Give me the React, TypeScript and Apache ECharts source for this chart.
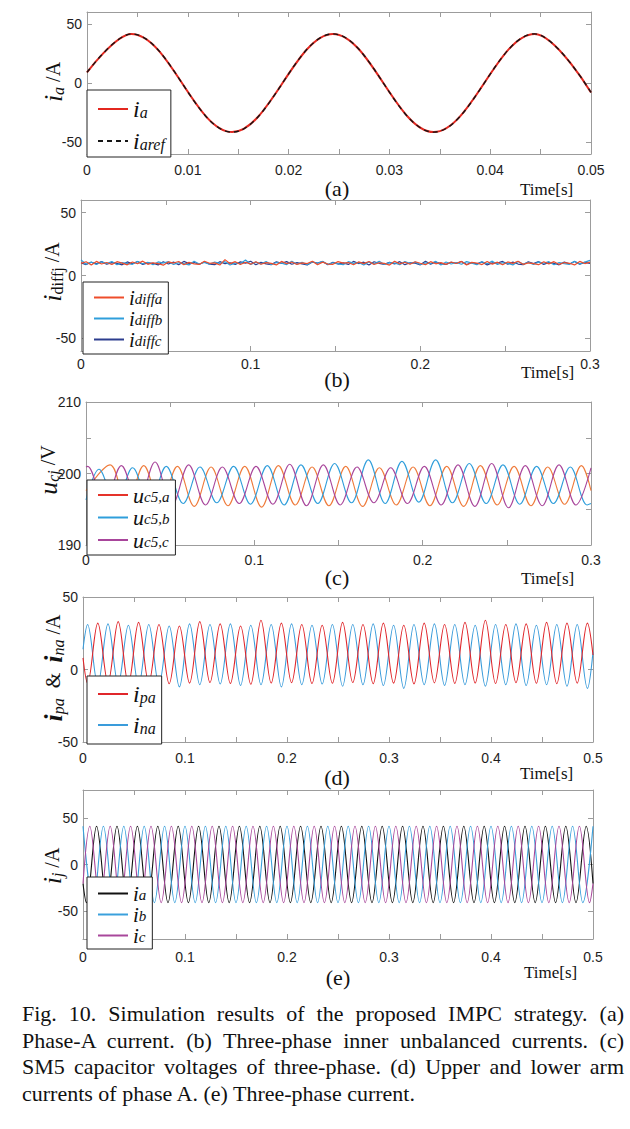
import React, { useEffect, useRef } from 'react';
import * as echarts from 'echarts';

// ---------- tick / label values ----------
const aXTicks = [0, 0.005, 0.01, 0.015, 0.02, 0.025, 0.03, 0.035, 0.04, 0.045, 0.05];
const aXLabels = [0, 0.01, 0.02, 0.03, 0.04, 0.05];
const bcXTicks = [0, 0.05, 0.1, 0.15, 0.2, 0.25, 0.3];
const bcXLabels = [0, 0.1, 0.2, 0.3];
const deXTicks = [0, 0.05, 0.1, 0.15, 0.2, 0.25, 0.3, 0.35, 0.4, 0.45, 0.5];
const deXLabels = [0, 0.1, 0.2, 0.3, 0.4, 0.5];
const currentYTicks = [-50, 0, 50];
const voltYTicks = [190, 195, 200, 205, 210];
const voltYLabels = [190, 200, 210];

// ---------- (a) phase-A current: start, extrema, end ----------
const aTime = [0, 0.0044, 0.0144, 0.0244, 0.0344, 0.0444, 0.05];
const aIa = [9, 41.5, -41.5, 41.5, -41.5, 41.5, -8];
const aIaRef = [9, 41.5, -41.5, 41.5, -41.5, 41.5, -8];

// ---------- (b) inner unbalanced currents (samples over 0..0.3 s) ----------
const bDiffA = [9.6, 10.9, 8.4, 11.2, 9.1, 10.3, 8.7, 11.0, 9.8, 8.5,
  10.7, 9.3, 11.4, 8.9, 10.1, 9.5, 8.2, 10.8, 9.9, 11.1,
  8.6, 10.4, 9.2, 8.8, 11.3, 9.7, 10.0, 8.3, 12.6, 9.4,
  11.0, 8.7, 10.5, 9.0, 10.9, 8.9, 10.2, 9.6, 8.4, 11.2,
  9.3, 10.7, 8.8, 10.0, 9.5, 11.3, 8.6, 10.6, 9.1, 8.9,
  11.0, 9.8, 10.3, 8.5, 10.8, 9.4, 11.1, 8.7, 10.1, 9.6,
  8.3, 11.4, 9.2, 10.5, 8.9, 10.9, 9.7, 8.6, 11.0, 9.3,
  10.2, 8.8, 10.7, 9.5, 11.2, 8.4, 10.4, 9.9, 8.7, 11.1,
  9.0, 10.6, 8.5, 10.8, 9.6, 11.3, 8.9, 10.0, 9.4, 8.6,
  10.9, 9.2, 11.0, 8.8, 10.3, 9.7, 8.4, 11.2, 9.5, 10.6];
const bDiffB = [12.4, 9.0, 10.6, 8.8, 10.9, 9.4, 11.1, 8.5, 10.2, 9.7,
  8.9, 11.2, 9.3, 10.5, 8.6, 10.8, 9.9, 11.0, 8.7, 10.1,
  9.5, 8.4, 11.3, 9.1, 10.4, 8.9, 10.7, 9.6, 11.0, 8.3,
  10.0, 9.4, 12.3, 8.8, 10.6, 9.2, 11.1, 8.6, 10.3, 9.8,
  8.7, 11.4, 9.0, 10.5, 8.5, 10.9, 9.7, 11.2, 8.9, 10.1,
  9.3, 8.6, 11.0, 9.6, 10.4, 8.4, 10.8, 9.2, 11.3, 8.8,
  10.2, 9.9, 8.5, 11.1, 9.4, 10.6, 8.7, 10.0, 9.5, 11.2,
  8.3, 10.7, 9.1, 10.3, 8.9, 11.0, 9.8, 8.6, 10.9, 9.3,
  11.4, 8.8, 10.1, 9.6, 8.4, 11.2, 9.0, 10.5, 8.7, 10.8,
  9.7, 11.0, 8.5, 10.2, 9.4, 8.9, 11.3, 9.2, 10.6, 12.0];
const bDiffC = [9.9, 8.7, 10.5, 9.2, 11.0, 8.9, 10.2, 9.6, 8.5, 10.8,
  9.3, 11.1, 8.8, 10.0, 9.7, 8.4, 10.9, 9.1, 10.6, 8.6,
  11.2, 9.5, 10.3, 8.9, 10.7, 9.0, 8.6, 11.0, 9.4, 10.1,
  8.8, 10.8, 9.8, 11.3, 8.5, 10.4, 9.2, 8.7, 10.9, 9.6,
  11.0, 8.9, 10.2, 9.3, 8.4, 10.7, 9.9, 11.1, 8.6, 10.5,
  9.1, 10.0, 8.8, 11.2, 9.5, 10.6, 8.3, 10.9, 9.7, 8.9,
  10.4, 9.2, 11.0, 8.6, 10.1, 9.8, 8.5, 11.3, 9.0, 10.7,
  9.4, 8.8, 10.5, 9.6, 11.1, 8.7, 10.2, 9.3, 10.8, 8.4,
  10.0, 9.9, 11.2, 8.9, 10.6, 9.1, 8.6, 10.9, 9.5, 11.0,
  8.8, 10.3, 9.7, 8.5, 10.7, 9.2, 11.1, 8.9, 10.4, 9.6];

// ---------- (c) SM5 capacitor voltages: alternating extrema (50 Hz) ----------
const cHalfPeriod = 0.01;
const cA = { start: 197.6, first: 0.0143, end: 197.6, ext: [201.2, 195.5, 201.1, 195.6, 201.0, 195.4, 200.9, 195.5, 201.0, 195.3, 201.1, 195.6, 200.9, 195.5, 201.0, 195.4, 200.8, 195.6, 200.9, 195.5, 201.0, 195.4, 201.1, 195.6, 201.0, 195.5, 200.9, 195.7, 201.1] };
const cB = { start: 196.3, first: 0.0077, end: 195.8, ext: [200.6, 195.7, 200.8, 195.6, 201.0, 195.8, 200.9, 195.9, 201.0, 195.7, 201.1, 195.6, 201.2, 195.8, 201.4, 195.9, 201.9, 195.8, 201.7, 196.0, 201.9, 195.9, 201.4, 195.8, 201.2, 195.7, 201.0, 195.8, 200.9, 195.6] };
const cC = { start: 200.9, first: 0.001, end: 200.8, ext: [201.0, 195.6, 201.1, 195.7, 201.6, 195.5, 201.2, 195.6, 200.9, 195.8, 201.0, 195.7, 201.3, 195.5, 201.2, 195.6, 200.9, 195.9, 200.8, 195.8, 201.0, 195.6, 201.2, 195.4, 201.4, 195.2, 201.1, 195.5, 201.2, 195.6] };

// ---------- (d) arm currents of phase A: alternating extrema (50 Hz) ----------
const dHalfPeriod = 0.01;
const dPa = { start: 8, first: 0.0045, end: 10, ext: [-9.5, 32, -9.0, 33, -10.0, 32.5, -9.2, 31, -9.8, 30, -9.4, 33, -9.0, 31.5, -9.6, 30, -10.2, 34, -9.3, 32, -9.1, 31, -9.7, 30.5, -9.5, 32.5, -9.0, 31, -9.8, 32, -9.4, 30.5, -9.9, 32, -9.2, 31, -9.6, 32.5, -9.3, 34, -9.7, 31, -9.1, 31.5, -9.5, 32.5, -9.8, 32, -9.4, 32] };
const dNa = { start: 14, first: 0.0045, end: 12, ext: [31, -10.5, 31.5, -10.0, 30.5, -11.0, 31, -10.5, 30, -12.0, 31.5, -10.5, 31, -10.0, 31.5, -11.0, 30.5, -10.5, 31, -12.0, 31.5, -10.5, 30.5, -10.0, 31, -11.5, 31, -10.5, 31.5, -11.0, 30.5, -13.0, 31, -10.5, 31.5, -11.0, 31, -10.5, 30.5, -11.5, 31, -10.5, 31.5, -11.0, 30.5, -10.5, 31, -11.5, 31, -13.0] };

// ---------- (e) three-phase currents: alternating extrema (50 Hz) ----------
const eHalfPeriod = 0.01;
const eIa = { start: -20.5, first: 0.00333, end: -20.5, ext: [-41, 41, -41, 41, -41, 41, -41, 41, -41, 41, -41, 41, -41, 41, -41, 41, -41, 41, -41, 41, -41, 41, -41, 41, -41, 41, -41, 41, -41, 41, -41, 41, -41, 41, -41, 41, -41, 41, -41, 41, -41, 41, -41, 41, -41, 41, -41, 41, -41, 41] };
const eIb = { start: null, first: 0, end: null, ext: [41, -41, 41, -41, 41, -41, 41, -41, 41, -41, 41, -41, 41, -41, 41, -41, 41, -41, 41, -41, 41, -41, 41, -41, 41, -41, 41, -41, 41, -41, 41, -41, 41, -41, 41, -41, 41, -41, 41, -41, 41, -41, 41, -41, 41, -41, 41, -41, 41, -41, 41] };
const eIc = { start: -20.5, first: 0.00667, end: -20.5, ext: [41, -41, 41, -41, 41, -41, 41, -41, 41, -41, 41, -41, 41, -41, 41, -41, 41, -41, 41, -41, 41, -41, 41, -41, 41, -41, 41, -41, 41, -41, 41, -41, 41, -41, 41, -41, 41, -41, 41, -41, 41, -41, 41, -41, 41, -41, 41, -41, 41, -41] };

const captionLines = [
  'Fig. 10. Simulation results of the proposed IMPC strategy. (a)',
  'Phase-A current. (b) Three-phase inner unbalanced currents. (c)',
  'SM5 capacitor voltages of three-phase. (d) Upper and lower arm',
  'currents of phase A. (e) Three-phase current.',
];

// ---------- helpers ----------
function pairs(t: number[], v: number[]) {
  return t.map((x, i) => [x, v[i]]);
}
function wave(w: any, half: number, tEnd: number) {
  const pts: number[][] = [];
  if (w.start !== null) pts.push([0, w.start]);
  w.ext.forEach((v: number, k: number) => pts.push([w.first + k * half, v]));
  if (w.end !== null) pts.push([tEnd, w.end]);
  return pts;
}
function samples(v: number[], tEnd: number) {
  return v.map((y, k) => [(k * tEnd) / (v.length - 1), y]);
}

const SERIF = 'Liberation Serif';
const SANS = 'Liberation Sans';
const AXIS_GRAY = '#9c9c9c';

const RED = '#e3271f';
const LBLUE = '#2f9edb';
const NAVY = '#2c3d8e';
const MAGENTA = '#a8459b';
const ORANGE = '#ef7b3b';

export default function App() {
  const ref = useRef<HTMLDivElement>(null);
  useEffect(() => {
    const chart = echarts.init(ref.current as HTMLDivElement, null, { renderer: 'svg' });

    const panels = [
      { left: 87, top: 12, width: 504, height: 142, xMax: 0.05, xTicks: aXTicks, xLabels: aXLabels, yMin: -60, yMax: 60, yTicks: currentYTicks, yLabels: currentYTicks, xMargin: 9 },
      { left: 81, top: 200, width: 509, height: 151, xMax: 0.3, xTicks: bcXTicks, xLabels: bcXLabels, yMin: -60, yMax: 60, yTicks: currentYTicks, yLabels: currentYTicks, xMargin: 6 },
      { left: 86, top: 402, width: 505, height: 143, xMax: 0.3, xTicks: bcXTicks, xLabels: bcXLabels, yMin: 190, yMax: 210, yTicks: voltYTicks, yLabels: voltYLabels, xMargin: 8 },
      { left: 83, top: 597, width: 510, height: 145, xMax: 0.5, xTicks: deXTicks, xLabels: deXLabels, yMin: -50, yMax: 50, yTicks: currentYTicks, yLabels: currentYTicks, xMargin: 9 },
      { left: 83, top: 790, width: 510, height: 149, xMax: 0.5, xTicks: deXTicks, xLabels: deXLabels, yMin: -80, yMax: 80, yTicks: currentYTicks, yLabels: currentYTicks, xMargin: 11 },
    ];

    const grid: any[] = [];
    const xAxis: any[] = [];
    const yAxis: any[] = [];
    const lineStyleAxis = { color: AXIS_GRAY, width: 1 };
    panels.forEach((p, i) => {
      grid.push({ left: p.left, top: p.top, width: p.width, height: p.height, containLabel: false });
      const common = { type: 'value', gridIndex: i, min: 0, max: p.xMax, splitLine: { show: false } };
      xAxis.push({
        ...common, position: 'bottom',
        axisLine: { show: true, onZero: false, lineStyle: lineStyleAxis },
        axisTick: { show: true, inside: true, length: 5, lineStyle: lineStyleAxis, customValues: p.xTicks },
        axisLabel: { show: true, customValues: p.xLabels, margin: p.xMargin, color: '#1e1e1e', fontSize: 14, fontFamily: SANS, showMaxLabel: true, showMinLabel: true, formatter: (v: number) => String(v) },
      });
      xAxis.push({
        ...common, position: 'top',
        axisLine: { show: true, onZero: false, lineStyle: lineStyleAxis },
        axisTick: { show: true, inside: true, length: 5, lineStyle: lineStyleAxis, customValues: p.xTicks },
        axisLabel: { show: false },
      });
      const ycommon = { type: 'value', gridIndex: i, min: p.yMin, max: p.yMax, splitLine: { show: false } };
      yAxis.push({
        ...ycommon, position: 'left',
        axisLine: { show: true, onZero: false, lineStyle: lineStyleAxis },
        axisTick: { show: true, inside: true, length: 5, lineStyle: lineStyleAxis, customValues: p.yTicks },
        axisLabel: { show: true, customValues: p.yLabels, margin: 5, color: '#1e1e1e', fontSize: 14, fontFamily: SANS, showMaxLabel: true, showMinLabel: true, formatter: (v: number) => String(v) },
      });
      yAxis.push({
        ...ycommon, position: 'right',
        axisLine: { show: true, onZero: false, lineStyle: lineStyleAxis },
        axisTick: { show: true, inside: true, length: 5, lineStyle: lineStyleAxis, customValues: p.yTicks },
        axisLabel: { show: false },
      });
    });

    const line = (name: string, i: number, data: any[], color: string, width: number, smooth: number | boolean, extra: any = {}) => ({
      type: 'line', name, xAxisIndex: 2 * i, yAxisIndex: 2 * i, data, symbol: 'none', showSymbol: false,
      smooth, silent: true, animation: false, color,
      itemStyle: { color }, lineStyle: { color, width, ...(extra.lineStyle || {}) },
    });

    const SM = 0.36;
    const series = [
      line('a_ia', 0, pairs(aTime, aIa), RED, 2, SM),
      line('a_iaref', 0, pairs(aTime, aIaRef), '#151515', 1.4, SM, { lineStyle: { type: [5, 4] } }),
      line('b_c', 1, samples(bDiffC, 0.3), NAVY, 1.2, false),
      line('b_b', 1, samples(bDiffB, 0.3), LBLUE, 1.2, false),
      line('b_a', 1, samples(bDiffA, 0.3), '#ee4d2b', 1.2, false),
      line('c_a', 2, wave(cA, cHalfPeriod, 0.3), ORANGE, 1.1, SM),
      line('c_b', 2, wave(cB, cHalfPeriod, 0.3), LBLUE, 1.1, SM),
      line('c_c', 2, wave(cC, cHalfPeriod, 0.3), MAGENTA, 1.1, SM),
      line('d_n', 3, wave(dNa, dHalfPeriod, 0.5), '#3a9cdb', 1.1, SM),
      line('d_p', 3, wave(dPa, dHalfPeriod, 0.5), '#e0262b', 1.1, SM),
      line('e_a', 4, wave(eIa, eHalfPeriod, 0.5), '#111111', 1.1, SM),
      line('e_b', 4, wave(eIb, eHalfPeriod, 0.5), '#3aa0dc', 1.1, SM),
      line('e_c', 4, wave(eIc, eHalfPeriod, 0.5), '#a8479b', 1.1, SM),
    ];

    const labelMap: Record<string, string> = {
      a_ia: '{i|i}{s|a}', a_iaref: '{i|i}{s|aref}',
      b_a: '{i|i}{s|diffa}', b_b: '{i|i}{s|diffb}', b_c: '{i|i}{s|diffc}',
      c_a: '{i|u}{s|c5,a}', c_b: '{i|u}{s|c5,b}', c_c: '{i|u}{s|c5,c}',
      d_p: '{i|i}{s|pa}', d_n: '{i|i}{s|na}',
      e_a: '{i|i}{s|a}', e_b: '{i|i}{s|b}', e_c: '{i|i}{s|c}',
    };
    const legRich = (L: number, big: number, sub: number) => ({
      i: { fontSize: big, fontStyle: 'italic', fontFamily: SERIF, color: '#111', lineHeight: L },
      s: { fontSize: sub, fontStyle: 'italic', fontFamily: SERIF, color: '#111', lineHeight: 4, verticalAlign: 'bottom' },
    });
    const legend = (left: number, top: number, data: any[], L: number, gap: number, padding: number[], big: number, sub: number) => ({
      orient: 'vertical', left, top, data, itemWidth: 30, itemHeight: 10, itemGap: gap,
      padding, borderColor: '#222', borderWidth: 1, backgroundColor: '#fff', selectedMode: false,
      itemStyle: { opacity: 0, borderWidth: 0 },
      lineStyle: { opacity: 1 },
      formatter: (n: string) => labelMap[n],
      textStyle: { rich: legRich(L, big, sub) },
    });
    const legends = [
      legend(87, 90, ['a_ia', 'a_iaref'], 22, 8, [7, 6, 4, 10], 24, 16),
      legend(83, 282, ['b_a', 'b_b', 'b_c'], 17, 0, [5, 6, 4, 10], 21, 15),
      legend(87, 480, [{ name: 'c_a', lineStyle: { color: '#e5332a' } }, 'c_b', 'c_c'], 18, 0.5, [4, 6, 4, 10], 22, 15),
      legend(87, 676, ['d_p', 'd_n'], 22, 7, [6, 6, 7, 10], 24, 16),
      legend(87, 877, ['e_a', 'e_b', 'e_c'], 18, 0, [6, 6, 3, 10], 21, 15),
    ];

    const yRich = {
      i: { fontSize: 26, fontStyle: 'italic', fontFamily: SERIF, fill: '#111', lineHeight: 26 },
      b: { fontSize: 26, fontStyle: 'italic', fontWeight: 'bold', fontFamily: SERIF, fill: '#111', lineHeight: 26 },
      s: { fontSize: 16, fontStyle: 'italic', fontFamily: SERIF, fill: '#111', lineHeight: 4, verticalAlign: 'bottom' },
      u: { fontSize: 16, fontFamily: SERIF, fill: '#111', lineHeight: 4, verticalAlign: 'bottom' },
      n: { fontSize: 20, fontFamily: SERIF, fill: '#111', lineHeight: 26 },
    };
    const yName = (x: number, y: number, text: string) => ({
      type: 'text', x, y, rotation: Math.PI / 2, silent: true,
      style: { text, rich: yRich, align: 'center', verticalAlign: 'middle', fill: '#111' },
    });
    const txt = (x: number, y: number, text: string, size: number, align = 'center') => ({
      type: 'text', x, y, silent: true,
      style: { text, fontSize: size, fontFamily: SERIF, fill: '#111', align, verticalAlign: 'middle' },
    });
    const graphic = [
      yName(53, 82, '{i|i}{s|a}{n| /A}'),
      yName(52, 272, '{i|i}{u|diffj}{n| /A}'),
      yName(48, 470, '{i|u}{s|cj}{n| /V}'),
      yName(53, 668, '{b|i}{s|pa}{n|  &  }{b|i}{s|na}{n| /A}'),
      yName(52, 866, '{i|i}{s|j}{n| /A}'),
      txt(337, 188, '(a)', 22), txt(520, 189, 'Time[s]', 17, 'left'),
      txt(337, 379, '(b)', 22), txt(521, 372, 'Time[s]', 17, 'left'),
      txt(337, 577, '(c)', 22), txt(521, 578, 'Time[s]', 17, 'left'),
      txt(337, 777, '(d)', 22), txt(520, 773, 'Time[s]', 17, 'left'),
      txt(338, 977, '(e)', 22), txt(524, 972, 'Time[s]', 17, 'left'),
    ];

    chart.setOption({
      animation: false,
      backgroundColor: '#ffffff',
      textStyle: { fontFamily: SANS },
      grid, xAxis, yAxis, series, legend: legends, graphic,
    });
    return () => chart.dispose();
  }, []);

  const capTops = [1014, 1041, 1067, 1094];
  return (
    <div style={{ position: 'absolute', left: 0, top: 0, width: 630, height: 1129, background: '#fff', overflow: 'hidden' }}>
      <div ref={ref} style={{ position: 'absolute', left: 0, top: 0, width: 630, height: 1129 }} />
      {captionLines.map((t, i) => (
        <div key={i} style={{
          position: 'absolute', left: 22, width: 602, top: capTops[i] - 13, height: 26, lineHeight: '26px',
          fontFamily: SERIF, fontSize: 22, color: '#111',
          textAlign: i < 3 ? 'justify' : 'left', textAlignLast: i < 3 ? 'justify' : 'left', whiteSpace: 'nowrap',
        } as any}>{t}</div>
      ))}
    </div>
  );
}
